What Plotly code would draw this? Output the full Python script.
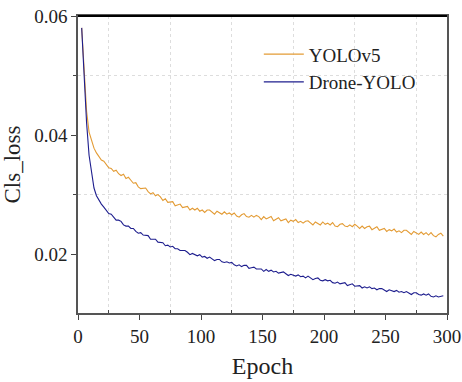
import plotly.graph_objects as go

epochs = list(range(3, 299, 2))

yolov5 = [
    0.0580, 0.0502, 0.0440, 0.0405, 0.0389, 0.0378, 0.0370, 0.0364, 0.0358, 0.0356,
    0.0350, 0.0345, 0.0344, 0.0339, 0.0341, 0.0335, 0.0332, 0.0334, 0.0327, 0.0329,
    0.0324, 0.0319, 0.0320, 0.0313, 0.0310, 0.0311, 0.0311, 0.0305, 0.0301, 0.0303,
    0.0298, 0.0300, 0.0296, 0.0290, 0.0293, 0.0287, 0.0288, 0.0288, 0.0281, 0.0282,
    0.0284, 0.0278, 0.0279, 0.0280, 0.0274, 0.0277, 0.0274, 0.0277, 0.0272, 0.0274,
    0.0270, 0.0274, 0.0274, 0.0270, 0.0267, 0.0272, 0.0269, 0.0267, 0.0271, 0.0267,
    0.0269, 0.0266, 0.0269, 0.0264, 0.0262, 0.0266, 0.0268, 0.0263, 0.0262, 0.0265,
    0.0262, 0.0265, 0.0263, 0.0258, 0.0263, 0.0259, 0.0261, 0.0263, 0.0256, 0.0259,
    0.0261, 0.0256, 0.0257, 0.0259, 0.0253, 0.0257, 0.0255, 0.0258, 0.0253, 0.0255,
    0.0252, 0.0255, 0.0256, 0.0252, 0.0249, 0.0254, 0.0252, 0.0249, 0.0254, 0.0250,
    0.0252, 0.0249, 0.0253, 0.0247, 0.0246, 0.0250, 0.0251, 0.0247, 0.0246, 0.0249,
    0.0246, 0.0250, 0.0247, 0.0243, 0.0247, 0.0243, 0.0246, 0.0247, 0.0241, 0.0243,
    0.0246, 0.0240, 0.0242, 0.0243, 0.0238, 0.0241, 0.0239, 0.0242, 0.0237, 0.0239,
    0.0236, 0.0240, 0.0240, 0.0236, 0.0233, 0.0238, 0.0235, 0.0233, 0.0237, 0.0233,
    0.0236, 0.0232, 0.0236, 0.0231, 0.0229, 0.0233, 0.0235, 0.0230,
]

drone_yolo = [
    0.0580, 0.0500, 0.0420, 0.0366, 0.0334, 0.0311, 0.0298, 0.0290, 0.0284, 0.0279,
    0.0274, 0.0268, 0.0267, 0.0262, 0.0257, 0.0257, 0.0255, 0.0249, 0.0247, 0.0247,
    0.0243, 0.0243, 0.0238, 0.0235, 0.0236, 0.0232, 0.0232, 0.0231, 0.0225, 0.0225,
    0.0225, 0.0220, 0.0219, 0.0219, 0.0214, 0.0215, 0.0212, 0.0213, 0.0209, 0.0209,
    0.0206, 0.0206, 0.0206, 0.0203, 0.0199, 0.0201, 0.0199, 0.0197, 0.0199, 0.0195,
    0.0196, 0.0193, 0.0195, 0.0192, 0.0189, 0.0191, 0.0191, 0.0187, 0.0186, 0.0187,
    0.0185, 0.0186, 0.0182, 0.0180, 0.0182, 0.0179, 0.0181, 0.0181, 0.0176, 0.0177,
    0.0178, 0.0175, 0.0175, 0.0175, 0.0171, 0.0174, 0.0171, 0.0173, 0.0170, 0.0171,
    0.0168, 0.0169, 0.0170, 0.0167, 0.0164, 0.0166, 0.0165, 0.0163, 0.0165, 0.0162,
    0.0163, 0.0160, 0.0163, 0.0160, 0.0157, 0.0159, 0.0160, 0.0156, 0.0155, 0.0157,
    0.0155, 0.0156, 0.0152, 0.0151, 0.0153, 0.0150, 0.0151, 0.0152, 0.0147, 0.0148,
    0.0150, 0.0146, 0.0146, 0.0147, 0.0143, 0.0145, 0.0143, 0.0145, 0.0142, 0.0143,
    0.0140, 0.0142, 0.0142, 0.0140, 0.0137, 0.0140, 0.0138, 0.0137, 0.0139, 0.0136,
    0.0137, 0.0135, 0.0137, 0.0135, 0.0132, 0.0135, 0.0135, 0.0132, 0.0131, 0.0133,
    0.0131, 0.0133, 0.0129, 0.0128, 0.0130, 0.0128, 0.0129, 0.0130,
]

x_ticks = [0, 50, 100, 150, 200, 250, 300]
y_ticks = [0.02, 0.04, 0.06]
y_tick_labels = ["0.02", "0.04", "0.06"]

FONT = "Liberation Serif, Times New Roman, serif"

fig = go.Figure()
fig.add_trace(go.Scatter(x=epochs, y=yolov5, mode="lines", name="YOLOv5",
                         line=dict(color="#E39B34", width=1.1)))
fig.add_trace(go.Scatter(x=epochs, y=drone_yolo, mode="lines", name="Drone-YOLO",
                         line=dict(color="#1E1E8E", width=1.1)))

fig.update_layout(
    width=462, height=382,
    margin=dict(l=78, r=15, t=16, b=69),
    paper_bgcolor="white", plot_bgcolor="white",
    font=dict(family=FONT, size=19, color="#222"),
    showlegend=True,
    legend=dict(x=0.49, y=0.935, xanchor="left", yanchor="top",
                bgcolor="rgba(0,0,0,0)", font=dict(family=FONT, size=19, color="#222"),
                tracegroupgap=0, itemwidth=40),
    xaxis=dict(
        range=[0, 300], tickvals=x_ticks, ticks="outside", ticklen=5, tickcolor="#444",
        showline=True, linecolor="#555", linewidth=1.5, mirror=True,
        showgrid=False, zeroline=False, automargin=False,
        tickfont=dict(family=FONT, size=19, color="#222"),
        title=dict(text="Epoch", font=dict(family=FONT, size=24, color="#222"), standoff=12),
        minor=dict(tickvals=[25, 75, 125, 175, 225, 275], ticks="inside", ticklen=3,
                   tickcolor="#444", showgrid=True, gridcolor="#dddddd", griddash="dot",
                   gridwidth=1),
    ),
    yaxis=dict(
        range=[0.0101, 0.06], tickvals=y_ticks, ticktext=y_tick_labels,
        ticks="outside", ticklen=5, tickcolor="#444",
        showline=True, linecolor="#555", linewidth=1.5, mirror=True,
        showgrid=False, zeroline=False, automargin=False,
        tickfont=dict(family=FONT, size=19, color="#222"),
        title=dict(text="Cls_loss", font=dict(family=FONT, size=23, color="#222"), standoff=10),
        minor=dict(tickvals=[0.03, 0.05], ticks="outside", ticklen=3, tickcolor="#444",
                   showgrid=True, gridcolor="#dddddd", griddash="dot", gridwidth=1),
    ),
)

fig.add_shape(type="line", xref="paper", yref="paper", x0=0, x1=1, y0=1, y1=1,
              line=dict(color="black", width=2))

fig.write_html("out.html")
